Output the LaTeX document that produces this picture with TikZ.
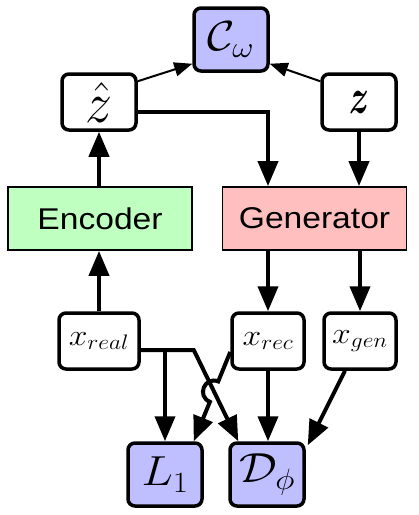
\RequirePackage{fix-cm}
\documentclass[tikz,border=0pt]{standalone}
\usepackage{amsmath,bm}
\usepackage{graphicx}
\usepackage{fontspec}
\setsansfont{Liberation Sans}
\usetikzlibrary{arrows.meta,calc}
\newcommand\hs[1]{\scalebox{1.12}[1]{#1}}
\tikzset{
  bx/.style={draw, line width=3.5pt, rounded corners=7pt, minimum width=74pt,
    minimum height=56pt, inner sep=0pt, fill=white, font=\fontsize{30}{36}\selectfont},
  loss/.style={bx, fill=blue!25, minimum height=63pt, font=\fontsize{42}{48}\selectfont},
  net/.style={draw, line width=1.8pt, minimum width=184pt, minimum height=63pt,
    inner sep=0pt, font=\sffamily\fontsize{30}{36}\selectfont},
  arr/.style={line width=4pt, -{Triangle[width=20pt,length=25pt]}},
  tarr/.style={line width=2pt, -{Triangle[width=14pt,length=18pt]}},
}
\begin{document}
\begin{tikzpicture}[x=1pt,y=-1pt]
\useasboundingbox (0,0) rectangle (419,515);
\node[loss] (C) at (231,39.5) {\hs{$\mathcal{C}_\omega$}};
\node[bx] (zh) at (99,102) {\resizebox{27pt}{40pt}{$\hat{z}$}};
\node[bx] (z) at (359,102) {\resizebox{20pt}{22pt}{$\bm{z}$}};
\node[net, fill=green!25] (enc) at (100,218.5) {\hs{Encoder}};
\node[net, fill=red!25] (gen) at (314.5,218.5) {\hs{Generator}};
\node[bx, minimum width=80pt] (xreal) at (99,341) {\hs{$x_{real}$}};
\node[bx, minimum width=72pt] (xrec) at (268,341) {\hs{$x_{rec}$}};
\node[bx, minimum width=72pt] (xgen) at (360,341) {\hs{$x_{gen}$}};
\node[loss] (L1) at (165,474.5) {\hs{$L_1$}};
\node[loss] (D) at (267,474.5) {\hs{$\mathcal{D}_\phi$}};
% top
\draw[tarr] ($(zh.north east)+(0,9)$) -- ($(C.south west)+(0,-9)$);
\draw[tarr] ($(z.north west)+(0,9)$) -- ($(C.south east)+(0,-9)$);
\draw[arr] ($(zh.east)+(0,10)$) -| (xrec.north |- gen.north);
\draw[arr] (z.south) -- (z.south |- gen.north);
\draw[arr] (zh.south |- enc.north) -- (zh.south);
\draw[arr] (xreal.north) -- (xreal.north |- enc.south);
\draw[arr] (xrec.north |- gen.south) -- (xrec.north);
\draw[arr] (xgen.north |- gen.south) -- (xgen.north);
% bottom
\coordinate (a) at ($(xreal.east)+(0,9)$);
\coordinate (b) at ($(a)+(53,0)$);
\coordinate (d) at ($(D.north west)+(10,0)$);
\draw[arr] (a) -| (L1.north);
\draw[arr] (a) -- (b) -- (d);
\coordinate (s) at ($(xrec.west)+(0,11)$);
\coordinate (e) at ($(L1.north east)+(-10,0)$);
\coordinate (X) at (intersection of s--e and b--d);
\coordinate (p1) at ($(X)!11pt!(s)$);
\coordinate (p2) at ($(X)!11pt!(e)$);
\coordinate (c1) at ($(p1)!14.7pt!-90:(e)$);
\coordinate (c2) at ($(p2)!14.7pt!-90:(e)$);
\draw[arr] (s) -- (p1) .. controls (c1) and (c2) .. (p2) -- (e);
\draw[arr] (xrec.south) -- (xrec.south |- D.north);
\draw[arr] ($(xgen.south)+(-15,0)$) -- ($(D.north east)+(2,4)$);
\end{tikzpicture}
\end{document}
